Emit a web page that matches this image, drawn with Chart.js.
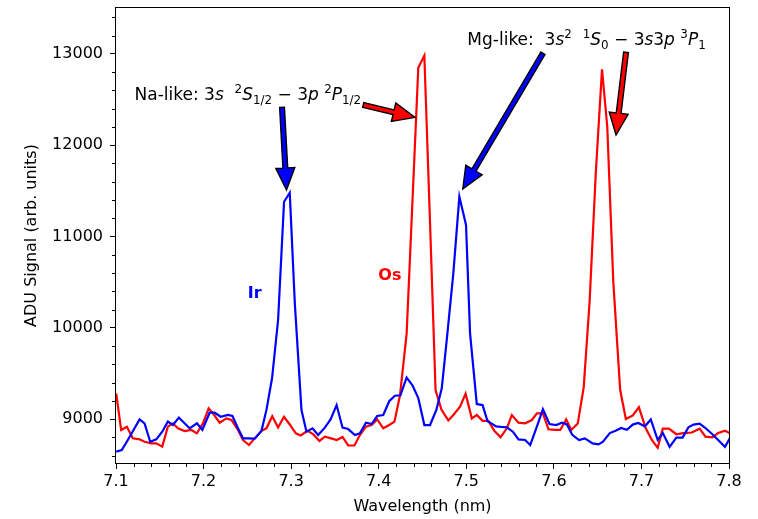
<!DOCTYPE html>
<html>
<head>
<meta charset="utf-8">
<script src="https://cdn.jsdelivr.net/npm/chart.js@4.4.1/dist/chart.umd.min.js"></script>
<style>
  html, body { margin: 0; padding: 0; background: #ffffff; }
  #wrap { width: 758px; height: 519px; position: relative; }
</style>
</head>
<body>
<div id="wrap"><canvas id="spectrum"></canvas></div>
<script>
// Ir spectrum (blue)
const wavelengthIr = [7.1002, 7.1066, 7.1135, 7.1200, 7.1269, 7.1326, 7.1391, 7.1460, 7.1528, 7.1592,
  7.1650, 7.1718, 7.1783, 7.1841, 7.1924, 7.1986, 7.2069, 7.2127, 7.2195, 7.2279,
  7.2329, 7.2393, 7.2450, 7.2507, 7.2584, 7.2661, 7.2718, 7.2782, 7.2851, 7.2919,
  7.2984, 7.3042, 7.3118, 7.3175, 7.3244, 7.3308, 7.3385, 7.3450, 7.3519, 7.3587,
  7.3651, 7.3728, 7.3785, 7.3854, 7.3919, 7.3983, 7.4052, 7.4120, 7.4185, 7.4248,
  7.4319, 7.4388, 7.4452, 7.4521, 7.4586, 7.4658, 7.4720, 7.4777, 7.4852, 7.4921,
  7.4997, 7.5043, 7.5120, 7.5186, 7.5243, 7.5291, 7.5341, 7.5398, 7.5463, 7.5532,
  7.5596, 7.5672, 7.5730, 7.5806, 7.5875, 7.5950, 7.6027, 7.6092, 7.6149, 7.6210,
  7.6288, 7.6354, 7.6443, 7.6510, 7.6561, 7.6639, 7.6705, 7.6768, 7.6834, 7.6901,
  7.6962, 7.7040, 7.7107, 7.7186, 7.7244, 7.7322, 7.7399, 7.7470, 7.7537, 7.7595,
  7.7665, 7.7731, 7.7810, 7.7876, 7.7954, 7.8040];
const signalIr = [8642, 8660, 8770, 8880, 8996, 8953, 8751, 8777, 8861, 8971,
  8934, 9015, 8953, 8898, 8953, 8880, 9069, 9069, 9025, 9044,
  9033, 8898, 8788, 8788, 8785, 8870, 9100, 9446, 10085, 11381,
  11480, 10268, 9099, 8861, 8898, 8825, 8905, 8995, 9153, 8905,
  8890, 8825, 8843, 8960, 8945, 9033, 9044, 9195, 9255, 9260,
  9455, 9365, 9230, 8934, 8934, 9099, 9336, 9866, 10597, 11436,
  11126, 9939, 9165, 9153, 8975, 8950, 8920, 8914, 8909, 8861,
  8777, 8770, 8715, 8916, 9106, 8945, 8934, 8960, 8940, 8827,
  8770, 8788, 8733, 8722, 8751, 8846, 8871, 8901, 8882, 8939,
  8957, 8920, 8995, 8770, 8846, 8695, 8796, 8796, 8909, 8939,
  8950, 8901, 8833, 8770, 8695, 8840];

// Os spectrum (red)
const wavelengthOs = [7.1002, 7.1059, 7.1124, 7.1192, 7.1269, 7.1326, 7.1403, 7.1460, 7.1528, 7.1592,
  7.1650, 7.1707, 7.1783, 7.1860, 7.1924, 7.1993, 7.2058, 7.2107, 7.2184, 7.2260,
  7.2318, 7.2393, 7.2450, 7.2519, 7.2584, 7.2661, 7.2718, 7.2784, 7.2851, 7.2918,
  7.2984, 7.3053, 7.3110, 7.3185, 7.3251, 7.3323, 7.3385, 7.3456, 7.3522, 7.3587,
  7.3651, 7.3723, 7.3785, 7.3854, 7.3919, 7.3983, 7.4052, 7.4120, 7.4180, 7.4243,
  7.4319, 7.4386, 7.4452, 7.4521, 7.4586, 7.4649, 7.4717, 7.4795, 7.4857, 7.4929,
  7.4992, 7.5063, 7.5120, 7.5186, 7.5253, 7.5320, 7.5391, 7.5463, 7.5520, 7.5596,
  7.5672, 7.5749, 7.5806, 7.5875, 7.5939, 7.6015, 7.6073, 7.6141, 7.6199, 7.6273,
  7.6341, 7.6409, 7.6479, 7.6550, 7.6610, 7.6679, 7.6757, 7.6822, 7.6902, 7.6971,
  7.7048, 7.7119, 7.7186, 7.7244, 7.7314, 7.7399, 7.7478, 7.7576, 7.7665, 7.7731,
  7.7810, 7.7876, 7.7954, 7.8040];
const signalOs = [9280, 8880, 8916, 8788, 8777, 8751, 8734, 8734, 8697, 8916,
  8953, 8898, 8868, 8880, 8843, 8953, 9117, 9062, 8960, 9007,
  8989, 8880, 8770, 8715, 8788, 8870, 8898, 9030, 8907, 9025,
  8940, 8843, 8820, 8870, 8834, 8760, 8806, 8788, 8770, 8803,
  8710, 8710, 8825, 8916, 8934, 8996, 8898, 8934, 8971, 9260,
  9939, 11400, 12850, 12983, 11150, 9318, 9100, 8985, 9050, 9135,
  9278, 9007, 9044, 8980, 8980, 8870, 8800, 8898, 9044, 8960,
  8953, 8989, 9062, 9062, 8887, 8880, 8880, 8995, 8880, 8950,
  9350, 10300, 11700, 12832, 12200, 10500, 9320, 9000, 9040, 9130,
  8901, 8770, 8684, 8894, 8894, 8833, 8846, 8852, 8894, 8807,
  8800, 8846, 8871, 8830];

// Axis ticks
const xTickValues = [7.1, 7.2, 7.3, 7.4, 7.5, 7.6, 7.7, 7.8];
const yTickValues = [9000, 10000, 11000, 12000, 13000];
const xRange = [7.1, 7.8];
const yRange = [8518, 13504];

// Species labels and transition annotations (data coordinates)
const speciesLabels = [
  { text: 'Ir', x: 7.2584, y: 10370, color: '#0000ff' },
  { text: 'Os', x: 7.4128, y: 10567, color: '#ff0000' }
];
const arrowSpecs = [
  { from: [7.2896, 12416], to: [7.2947, 11510], color: '#0000ff' },
  { from: [7.3823, 12441], to: [7.4414, 12306], color: '#ff0000' },
  { from: [7.5875, 13008], to: [7.4960, 11521], color: '#0000ff' },
  { from: [7.6824, 13019], to: [7.6710, 12112], color: '#ff0000' }
];
const transitionTexts = [
  { x: 7.1212, y: 12496, parts: [
    { t: 'Na-like: ' }, { t: '3' }, { t: 's', i: 1 }, { t: '  ' },
    { t: '2', sup: 1 }, { t: 'S', i: 1 }, { t: '1/2', sub: 1 },
    { t: ' \u2212 ' }, { t: '3' }, { t: 'p', i: 1 }, { t: ' ' },
    { t: '2', sup: 1 }, { t: 'P', i: 1 }, { t: '1/2', sub: 1 } ] },
  { x: 7.5012, y: 13099, parts: [
    { t: 'Mg-like:  ' }, { t: '3' }, { t: 's', i: 1 }, { t: '2', sup: 1 }, { t: '  ' },
    { t: '1', sup: 1 }, { t: 'S', i: 1 }, { t: '0', sub: 1 },
    { t: ' \u2212 ' }, { t: '3' }, { t: 's', i: 1 }, { t: '3' }, { t: 'p', i: 1 }, { t: ' ' },
    { t: '3', sup: 1 }, { t: 'P', i: 1 }, { t: '1', sub: 1 } ] }
];

const FAMILY = '"DejaVu Sans", "Liberation Sans", sans-serif';
const FONT_SIZE = 16;
const NOTE_SIZE = 17;

function toPoints(xs, ys) {
  const n = Math.min(xs.length, ys.length);
  const out = [];
  for (let k = 0; k < n; k++) out.push({ x: xs[k], y: ys[k] });
  return out;
}

function drawRich(ctx, x, y, parts, size) {
  let cx = x;
  ctx.textBaseline = 'alphabetic';
  ctx.textAlign = 'left';
  for (const p of parts) {
    const sz = (p.sup || p.sub) ? size * 0.7 : size;
    ctx.font = (p.i ? 'italic ' : '') + sz + 'px ' + FAMILY;
    const dy = p.sup ? -size * 0.42 : (p.sub ? size * 0.22 : 0);
    ctx.fillText(p.t, cx, y + dy);
    cx += ctx.measureText(p.t).width;
  }
}

function drawArrow(ctx, x1, y1, x2, y2, color) {
  const dx = x2 - x1, dy = y2 - y1;
  const L = Math.hypot(dx, dy);
  const ux = dx / L, uy = dy / L, nx = -uy, ny = ux;
  const sw = 2.4, hw = 9.5, hl = 22;
  const bx = x2 - ux * hl, by = y2 - uy * hl;
  const pts = [
    [x1 + nx * sw, y1 + ny * sw], [bx + nx * sw, by + ny * sw], [bx + nx * hw, by + ny * hw],
    [x2, y2],
    [bx - nx * hw, by - ny * hw], [bx - nx * sw, by - ny * sw], [x1 - nx * sw, y1 - ny * sw]
  ];
  ctx.beginPath();
  ctx.moveTo(pts[0][0], pts[0][1]);
  for (let k = 1; k < pts.length; k++) ctx.lineTo(pts[k][0], pts[k][1]);
  ctx.closePath();
  ctx.fillStyle = color;
  ctx.fill();
  ctx.lineWidth = 1.4;
  ctx.lineJoin = 'miter';
  ctx.strokeStyle = '#000000';
  ctx.stroke();
}

// Frame, minor ticks, annotations
const decorations = {
  id: 'decorations',
  afterDatasetsDraw(chart) {
    const { ctx, scales: { x, y } } = chart;
    ctx.save();
    for (const a of arrowSpecs) {
      drawArrow(ctx, x.getPixelForValue(a.from[0]), y.getPixelForValue(a.from[1]),
                x.getPixelForValue(a.to[0]), y.getPixelForValue(a.to[1]), a.color);
    }
    ctx.fillStyle = '#000000';
    for (const t of transitionTexts) {
      drawRich(ctx, x.getPixelForValue(t.x), y.getPixelForValue(t.y), t.parts, NOTE_SIZE);
    }
    ctx.font = 'bold ' + FONT_SIZE + 'px ' + FAMILY;
    ctx.textAlign = 'center';
    ctx.textBaseline = 'middle';
    for (const s of speciesLabels) {
      ctx.fillStyle = s.color;
      ctx.fillText(s.text, x.getPixelForValue(s.x), y.getPixelForValue(s.y));
    }
    ctx.restore();
  },
  afterDraw(chart) {
    const { ctx, chartArea: a, scales: { x, y } } = chart;
    ctx.save();
    ctx.strokeStyle = '#000000';
    ctx.lineWidth = 1;
    const L = Math.round(a.left) - 0.5, R = Math.round(a.right) + 0.5;
    const T = Math.round(a.top) - 0.5, B = Math.round(a.bottom) + 0.5;
    ctx.strokeRect(L, T, R - L, B - T);
    ctx.beginPath();
    for (let k = 0; k <= 35; k++) {
      if (k % 5 === 0) continue;
      const px = Math.round(x.getPixelForValue(7.1 + k * 0.02)) + 0.5;
      ctx.moveTo(px, B); ctx.lineTo(px, B + 3.5);
    }
    for (let v = 8600; v <= 13400; v += 200) {
      if (v % 1000 === 0) continue;
      const py = Math.round(y.getPixelForValue(v)) + 0.5;
      ctx.moveTo(L, py); ctx.lineTo(L - 3.5, py);
    }
    ctx.stroke();
    ctx.restore();
  }
};

const tickFont = { family: FAMILY, size: FONT_SIZE };

new Chart(document.getElementById('spectrum'), {
  type: 'line',
  data: {
    datasets: [
      { label: 'Ir', data: toPoints(wavelengthIr, signalIr), borderColor: '#0000ff',
        borderWidth: 2.2, pointRadius: 0, tension: 0, fill: false },
      { label: 'Os', data: toPoints(wavelengthOs, signalOs), borderColor: '#ff0000',
        borderWidth: 2.2, pointRadius: 0, tension: 0, fill: false }
    ]
  },
  options: {
    responsive: true,
    maintainAspectRatio: false,
    animation: false,
    devicePixelRatio: 1,
    parsing: false,
    layout: { padding: { top: 8, right: 29, bottom: 0, left: 0 } },
    plugins: { legend: { display: false }, tooltip: { enabled: false } },
    scales: {
      x: {
        type: 'linear', min: xRange[0], max: xRange[1],
        afterBuildTicks: s => { s.ticks = xTickValues.map(v => ({ value: v })); },
        afterFit: s => { s.height = 56; s.paddingLeft = 0; s.paddingRight = 0; },
        ticks: { font: tickFont, color: '#000000', padding: 3, maxRotation: 0,
                 callback: v => Number(v).toFixed(1) },
        grid: { display: true, drawOnChartArea: false, drawTicks: true, tickLength: 6,
                tickColor: '#000000', tickWidth: 1 },
        border: { display: false },
        title: { display: true, text: 'Wavelength (nm)', font: tickFont, color: '#000000',
                 padding: { top: 0, bottom: 2.4 } }
      },
      y: {
        type: 'linear', min: yRange[0], max: yRange[1],
        afterBuildTicks: s => { s.ticks = yTickValues.map(v => ({ value: v })); },
        afterFit: s => { s.width = 116; s.paddingTop = 0; s.paddingBottom = 0; },
        ticks: { font: tickFont, color: '#000000', padding: 7, callback: v => String(v) },
        grid: { display: true, drawOnChartArea: false, drawTicks: true, tickLength: 6,
                tickColor: '#000000', tickWidth: 1 },
        border: { display: false },
        title: { display: true, text: 'ADU Signal (arb. units)', font: tickFont, color: '#000000',
                 padding: { top: 22.4, bottom: 0 } }
      }
    }
  },
  plugins: [decorations]
});
</script>
</body>
</html>
